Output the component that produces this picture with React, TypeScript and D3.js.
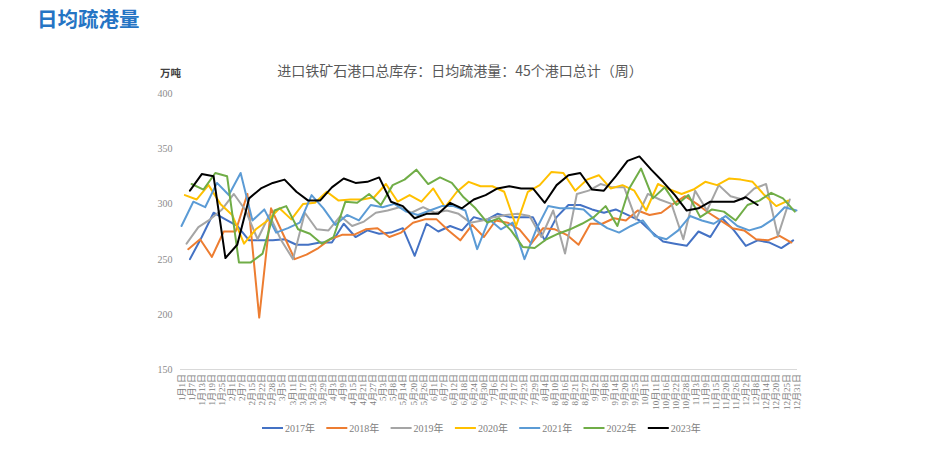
import React from "react";
import * as d3 from "d3";

const categories = [
  "1月1日","1月7日","1月13日","1月19日","1月25日","2月1日","2月7日","2月15日","2月22日","2月28日",
  "3月5日","3月11日","3月17日","3月23日","3月29日","4月3日","4月9日","4月15日","4月21日","4月27日",
  "5月3日","5月8日","5月14日","5月20日","5月26日","6月1日","6月7日","6月12日","6月18日","6月24日",
  "6月30日","7月6日","7月12日","7月17日","7月23日","7月29日","8月4日","8月10日","8月16日","8月21日",
  "8月27日","9月2日","9月8日","9月14日","9月20日","9月25日","10月1日","10月11日","10月16日","10月22日",
  "10月28日","11月3日","11月9日","11月15日","11月20日","11月26日","12月2日","12月8日","12月14日","12月20日",
  "12月25日","12月31日",
];

const yTicks = [150, 200, 250, 300, 350, 400];

const seriesNames = ["2017年", "2018年", "2019年", "2020年", "2021年", "2022年", "2023年"];
const seriesColors = ["#4472C4", "#ED7D31", "#A5A5A5", "#FFC000", "#5B9BD5", "#70AD47", "#000000"];
// first weekly observation date of each year
const seriesStart = ["2017-01-06", "2018-01-05", "2019-01-04", "2020-01-03", "2021-01-01", "2022-01-07", "2023-01-06"];

const v2017 = [250,270,292,286,280,267,267,267,268,263,263,265,265,282,270,276,273,274,278,253,282,275,280,276,288,285,291,288,288,288,267,288,299,299,295,292,295,290,285,275,266,264,262,275,270,287,276,262,267,265,260,267];
const v2018 = [259,268,252,275,275,309,197,296,273,250,254,260,268,272,272,277,278,270,274,283,286,286,276,267,281,270,285,283,277,264,278,277,272,263,282,282,287,285,294,290,292,300,307,300,292,285,278,276,268,267,271,265];
const v2019 = [264,279,286,295,309,294,268,290,267,250,292,277,276,289,280,284,292,294,297,292,297,292,294,291,283,285,288,290,291,289,270,294,255,309,312,318,315,315,286,309,304,300,268,312,294,317,307,304,314,318,271,304];
const v2020 = [308,304,317,300,290,264,277,285,296,286,300,301,311,303,304,304,306,318,302,308,302,314,297,311,320,316,316,311,280,311,317,329,328,312,322,326,314,317,312,294,318,313,309,313,320,317,323,322,320,308,298,303];
const v2021 = [280,302,297,319,308,328,285,295,274,278,283,308,296,281,290,285,299,297,300,293,290,294,298,298,294,259,286,277,283,250,277,298,296,296,295,285,278,274,280,285,271,268,276,289,285,282,289,280,276,279,286,297,294];
const v2022 = [318,313,328,325,247,247,255,294,298,277,273,264,270,302,301,309,299,317,322,331,318,324,319,306,296,283,287,276,261,260,268,273,277,282,288,298,280,314,332,305,315,299,308,288,295,293,285,299,303,310,305,293];
const v2023 = [312,327,325,251,263,305,314,319,322,311,303,303,315,323,319,320,324,302,298,287,291,291,301,296,304,308,314,316,314,314,301,317,326,328,313,312,325,339,343,331,320,308,294,296,302,302,302,306,299];

const seriesValues = [v2017, v2018, v2019, v2020, v2021, v2022, v2023];

const W = 946;
const H = 466;
const X0 = 181.5;
const X1 = 796.5;

const parse = d3.timeParse("%Y-%m-%d");

export default function App() {
  const xCat = d3.scalePoint<string>().domain(categories).range([X0, X1]);
  const xDay = d3.scaleLinear().domain([0, 364]).range([X0, X1]);
  const y = d3.scaleLinear().domain([150, 400]).range([369.5, 93.5]);

  const line = d3
    .line<{ d: number; v: number }>()
    .x((p) => xDay(p.d))
    .y((p) => y(p.v));

  const paths = seriesValues.map((vals, si) => {
    const start = parse(seriesStart[si]) as Date;
    const pts = vals.map((v, i) => {
      const dt = d3.timeDay.offset(start, 7 * i);
      const doy = d3.timeDay.count(d3.timeYear(dt), dt);
      return { d: doy, v };
    });
    return line(pts) || "";
  });

  const serif = "'Liberation Serif', 'Noto Sans CJK SC', serif";
  const legendX0 = 262;
  const legendStep = 64.3;

  return (
    <svg
      width={W}
      height={H}
      style={{ position: "absolute", left: 0, top: 0, background: "#fff" }}
      xmlns="http://www.w3.org/2000/svg"
    >
      <rect x={0} y={0} width={W} height={H} fill="#fff" />
      <text
        x={37}
        y={27}
        fontSize={20.5}
        fontWeight="bold"
        fill="#2574C4"
        fontFamily="'Noto Sans CJK SC', sans-serif"
      >
        日均疏港量
      </text>
      <text
        x={460}
        y={76}
        fontSize={14}
        textAnchor="middle"
        fill="#595959"
        fontFamily="'Noto Sans CJK SC', sans-serif"
      >
        进口铁矿石港口总库存：日均疏港量：45个港口总计（周）
      </text>
      <text
        x={160}
        y={77}
        fontSize={10.5}
        fontWeight="bold"
        fill="#404040"
        fontFamily="'Noto Sans CJK SC', sans-serif"
      >
        万吨
      </text>

      {yTicks.map((t) => (
        <text
          key={t}
          x={172.5}
          y={y(t)}
          dy="0.35em"
          fontSize={10}
          textAnchor="end"
          fill="#8c8c8c"
          fontFamily={serif}
        >
          {t}
        </text>
      ))}

      <line x1={180} x2={797} y1={369.5} y2={369.5} stroke="#d9d9d9" strokeWidth={1} />

      {categories.map((c) => (
        <text
          key={c}
          transform={`translate(${xCat(c)},374) rotate(-90)`}
          fontSize={9}
          textAnchor="end"
          dy="0.35em"
          fill="#808080"
          fontFamily={serif}
        >
          {c}
        </text>
      ))}

      <g fill="none" strokeWidth={2} strokeLinejoin="round" strokeLinecap="round">
        {paths.map((p, i) => (
          <path key={seriesNames[i]} d={p} stroke={seriesColors[i]} />
        ))}
      </g>

      {seriesNames.map((n, i) => (
        <g key={n} transform={`translate(${legendX0 + i * legendStep},428)`}>
          <line x1={0} x2={21} y1={0} y2={0} stroke={seriesColors[i]} strokeWidth={2} />
          <text x={23} y={0} dy="0.35em" fontSize={10} fill="#808080" fontFamily={serif}>
            {n}
          </text>
        </g>
      ))}
    </svg>
  );
}
